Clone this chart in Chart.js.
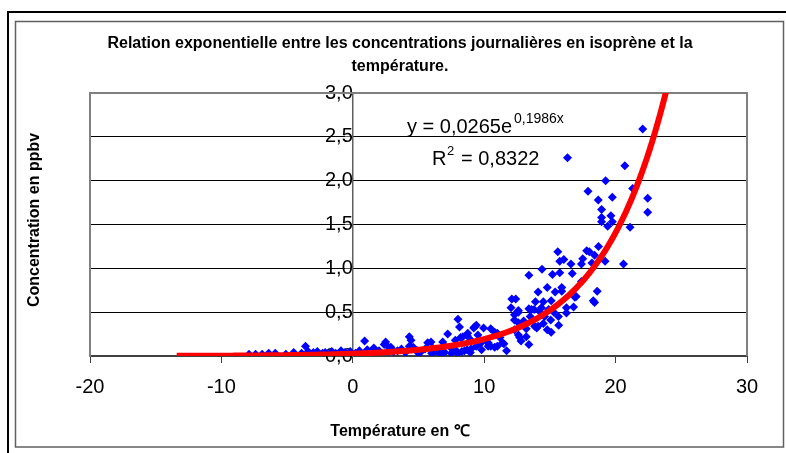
<!DOCTYPE html>
<html>
<head>
<meta charset="utf-8">
<script src="https://cdn.jsdelivr.net/npm/chart.js@4.4.0/dist/chart.umd.min.js"></script>
<style>
  html, body { margin: 0; padding: 0; background: #fff; }
</style>
</head>
<body>
<canvas id="chartCanvas" width="786" height="453"></canvas>
<script>
// daily mean temperature (°C) and isoprene concentration (ppbv)
const temperature = [
  -7.9, -7.4, -6.9, -6.4, -5.9, -5.1, -4.5, -3.9, -3.6, -3.4, -3.0, -2.7, -2.3, -2.1, -1.6, -1.3,
  -0.9, -0.6, -0.2, 0.2, 0.5, 0.9, 1.1, 1.4, 1.6, 1.76, 2.0, 2.39, 2.5, 2.65, 2.9, 3.1,
  3.4, 3.7, 4.0, 4.3, 4.43, 4.3, 4.6, 4.9, 5.0, 5.2, 5.5, 5.7, 5.95, 6.0, 6.08, 6.3,
  6.6, 6.7, 6.84, 7.0, 7.0, 7.22, 7.48, 7.5, 7.7, 7.8, 7.8, 8.0, 8.0, 8.12, 8.2, 8.3,
  8.37, 8.5, 8.7, 8.75, 8.7, 8.95, 9.0, 9.0, 9.2, 9.26, 9.39, 9.4, 9.52, 9.7, 9.8, 9.95,
  10.1, 10.3, 10.3, 10.5, 10.5, 10.8, 10.8, 11.0, 11.0, 11.2, 11.4, 11.5, 11.7,
  12.04, 12.1, 12.3, 12.3, 12.3, 12.4, 12.6, 12.6, 12.6, 12.6, 12.7, 12.8, 13.0, 13.2, 13.2, 13.4,
  13.4, 13.4, 13.5, 13.6, 13.8, 13.84, 13.9, 14.0, 14.1, 14.1, 14.2, 14.35, 14.4, 14.5, 14.5, 14.6,
  14.8, 14.8, 14.9, 15.06, 15.1, 15.1, 15.2, 15.3, 15.4, 15.6, 15.65, 15.67, 15.75, 15.75, 15.9, 15.9,
  16.06, 16.26, 16.26, 16.34, 16.6, 16.7, 16.8, 16.9, 17.0, 17.4, 17.4, 17.5, 17.8, 17.9, 18.0, 18.2,
  18.3, 18.4, 18.4, 18.6, 18.68, 18.7, 18.93, 18.93, 18.93, 19.2, 19.24, 19.4, 19.64, 19.75, 19.75, 20.6,
  20.7, 21.1, 21.3, 22.06, 22.44, 22.44
];
const isoprene = [
  0.02, 0.02, 0.02, 0.03, 0.03, 0.02, 0.04, 0.03, 0.11, 0.05, 0.04, 0.05, 0.03, 0.04, 0.05, 0.03,
  0.06, 0.04, 0.05, 0.03, 0.06, 0.17, 0.07, 0.04, 0.09, 0.05, 0.06, 0.13, 0.16, 0.11, 0.10, 0.05,
  0.06, 0.08, 0.04, 0.22, 0.18, 0.11, 0.10, 0.06, 0.03, 0.05, 0.08, 0.15, 0.16, 0.03, 0.09, 0.05,
  0.07, 0.02, 0.16, 0.11, 0.04, 0.25, 0.09, 0.03, 0.06, 0.18, 0.07, 0.42, 0.03, 0.33, 0.21, 0.05,
  0.22, 0.06, 0.23, 0.26, 0.07, 0.04, 0.18, 0.08, 0.32, 0.33, 0.11, 0.35, 0.24, 0.14, 0.07, 0.32,
  0.18, 0.15, 0.11, 0.11, 0.31, 0.27, 0.10, 0.26, 0.11, 0.21, 0.15, 0.14, 0.06,
  0.55, 0.65, 0.47, 0.41, 0.30, 0.65, 0.52, 0.50, 0.38, 0.24, 0.21, 0.17, 0.40, 0.31, 0.22, 0.92,
  0.54, 0.13, 0.45, 0.53, 0.53, 0.34, 0.62, 0.32, 0.73, 0.34, 0.51, 0.55, 0.99, 0.62, 0.37, 0.45,
  0.78, 0.30, 0.53, 0.41, 0.63, 0.27, 0.93, 0.50, 0.73, 1.19, 0.45, 0.35, 1.08, 0.95, 0.78, 0.74,
  1.10, 0.49, 0.55, 2.26, 1.05, 0.94, 0.56, 0.67, 0.68, 1.05, 0.85, 1.11, 1.20, 1.88, 1.19, 1.06,
  0.63, 1.15, 0.61, 0.74, 1.78, 1.25, 1.67, 1.58, 1.53, 1.08, 2.00, 1.48, 1.60, 1.53, 1.81, 1.05,
  2.17, 1.47, 1.91, 2.59, 1.80, 1.64
];

// exponential trendline as printed on the chart: y = 0,0265 e^(0,1986 x)
const trendA = 0.0265;
const trendB = 0.1986;
const trendFrom = -13.4;
const trendTo = 24.2;

const xTicks = [-20, -10, 0, 10, 20, 30];
const yMin = 0, yMax = 3, yStep = 0.5;

const points = temperature.map((t, i) => ({ x: t, y: isoprene[i] }));
const trend = [];
for (let t = trendFrom; t <= trendTo; t += 0.2) {
  trend.push({ x: t, y: trendA * Math.exp(trendB * t) });
}

const fontFamily = "'Liberation Sans', Arial, sans-serif";
const comma = (v) => v.toFixed(1).replace(".", ",");

// frames, titles and the trendline label
const decor = {
  id: "decor",
  beforeDraw(chart) {
    const ctx = chart.ctx;
    ctx.save();
    ctx.fillStyle = "#fff";
    ctx.fillRect(0, 0, chart.width, chart.height);
    ctx.strokeStyle = "#000";
    ctx.lineWidth = 2;
    ctx.strokeRect(8, 12, 900, 600);
    ctx.strokeStyle = "#606060";
    ctx.lineWidth = 1.5;
    ctx.strokeRect(15.5, 21.5, 768, 425.5);
    ctx.restore();
  },
  beforeDatasetsDraw(chart) {
    const { ctx, chartArea } = chart;
    ctx.save();
    ctx.strokeStyle = "#808080";
    ctx.lineWidth = 2;
    ctx.beginPath();
    ctx.moveTo(chartArea.left, chartArea.top);
    ctx.lineTo(chartArea.right, chartArea.top);
    ctx.lineTo(chartArea.right, chartArea.bottom);
    ctx.stroke();
    ctx.restore();
  },
  afterDraw(chart) {
    const ctx = chart.ctx;
    ctx.save();
    ctx.fillStyle = "#000";
    ctx.textAlign = "center";
    ctx.textBaseline = "middle";
    ctx.font = "bold 16px " + fontFamily;
    ctx.fillText("Relation exponentielle entre les concentrations journalières en isoprène et la", 400, 44);
    ctx.fillText("température.", 400, 67);
    ctx.fillText("Température en ℃", 400, 432);
    ctx.save();
    ctx.translate(35, 220);
    ctx.rotate(-Math.PI / 2);
    ctx.fillText("Concentration en ppbv", 0, 0);
    ctx.restore();

    ctx.textAlign = "left";
    ctx.textBaseline = "alphabetic";
    ctx.font = "20px " + fontFamily;
    ctx.fillText("y = 0,0265e", 407, 133);
    ctx.font = "14px " + fontFamily;
    ctx.fillText("0,1986x", 514, 123);
    ctx.font = "20px " + fontFamily;
    ctx.fillText("R", 432, 165);
    ctx.fillText("= 0,8322", 461, 165);
    ctx.font = "13px " + fontFamily;
    ctx.fillText("2", 447, 155);
    ctx.restore();
  }
};

new Chart(document.getElementById("chartCanvas").getContext("2d"), {
  type: "scatter",
  data: {
    datasets: [
      {
        label: "Exponentielle",
        data: trend,
        showLine: true,
        borderColor: "#ff0000",
        borderWidth: 6,
        pointRadius: 0,
        clip: 0,
        order: 0,
      },
      {
        label: "Isoprène",
        data: points,
        pointStyle: "rectRot",
        pointRadius: 4.5,
        backgroundColor: "#0000ff",
        borderColor: "#0000ff",
        borderWidth: 0,
        order: 1,
      },
    ],
  },
  options: {
    responsive: false,
    animation: false,
    layout: { padding: { top: 93, left: 0, right: 39, bottom: 0 } },
    plugins: { legend: { display: false }, tooltip: { enabled: false } },
    scales: {
      x: {
        type: "linear",
        position: "bottom",
        min: xTicks[0],
        max: xTicks[xTicks.length - 1],
        afterBuildTicks: (s) => { s.ticks = xTicks.map((v) => ({ value: v })); },
        ticks: { font: { family: fontFamily, size: 20 }, color: "#000", padding: 12 },
        grid: { drawOnChartArea: false, tickLength: 7, color: "#404040" },
        border: { color: "#404040", width: 2 },
        afterFit: (s) => { s.height = 97; },
      },
      y: {
        type: "linear",
        position: "left",
        min: yMin,
        max: yMax,
        ticks: { display: false, stepSize: yStep },
        grid: { color: "#000", lineWidth: 1, drawTicks: false, tickLength: 0 },
        border: { color: "#808080", width: 2 },
        afterFit: (s) => { s.width = 90; },
      },
      yLab: {
        type: "linear",
        axis: "y",
        position: { x: 0 },
        min: yMin,
        max: yMax,
        ticks: {
          stepSize: yStep,
          callback: (v) => comma(v),
          font: { family: fontFamily, size: 20 },
          color: "#000",
          padding: 9,
        },
        grid: { drawOnChartArea: false, tickLength: 7, color: "#606060" },
        border: { color: "#606060", width: 1.5 },
      },
    },
  },
  plugins: [decor],
});
</script>
</body>
</html>
